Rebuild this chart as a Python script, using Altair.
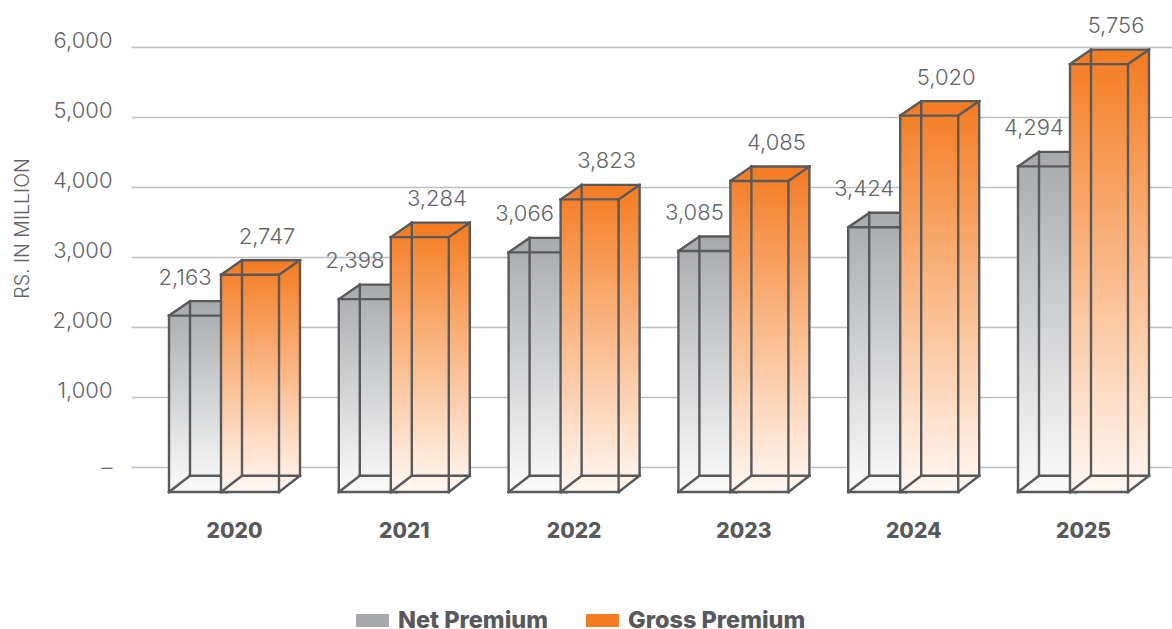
import altair as alt
import pandas as pd

YEARS = [2020, 2021, 2022, 2023, 2024, 2025]
NET_PREMIUM = [2163, 2398, 3066, 3085, 3424, 4294]
GROSS_PREMIUM = [2747, 3284, 3823, 4085, 5020, 5756]
SERIES = ["Net Premium", "Gross Premium"]
TICKS = [0, 1000, 2000, 3000, 4000, 5000, 6000]

# Box geometry, expressed in the units of the two scales
STEP_PX = 169.8
PX_PER_UNIT = 0.07
BOX_WIDTH = 58 / STEP_PX
DEPTH_X = 21 / STEP_PX
DEPTH_Y_TOP = 14.5 / PX_PER_UNIT
FLOOR_FRONT = -357
FLOOR_BACK = -124
NET_START = -65 / STEP_PX
GROSS_START = -13 / STEP_PX

LIGHT = "Inter"
INK = "#636466"
DARK = "#58595b"
EDGE = "#58595b"
GRID = "#bcbec0"

X_SCALE = alt.Scale(domain=[2020 - 103 / STEP_PX, 2020 + 938 / STEP_PX], nice=False, zero=False)
Y_SCALE = alt.Scale(domain=[-500, 6500], nice=False, zero=False)

X_AXIS = alt.Axis(
    values=YEARS, format="d", title=None, grid=False, ticks=False, domain=False,
    labelFont=LIGHT, labelFontSize=21, labelFontWeight=800, labelColor=DARK,
    labelPadding=29, labelBaseline="middle", labelOverlap=False,
)
Y_AXIS = alt.Axis(
    values=TICKS, title="RS. IN MILLION", titleX=-109, titleY=216, titleAngle=-90,
    titleFont=LIGHT, titleFontSize=19.5, titleFontWeight=300, titleColor=INK,
    titleAlign="center", titleBaseline="middle",
    grid=True, gridColor=GRID, gridWidth=1.5, ticks=False, domain=False,
    labelFont=LIGHT, labelFontSize=22, labelFontWeight=300, labelColor=INK,
    labelPadding=19,
    labelBaseline={"condition": {"test": "datum.value === 0", "value": "middle"},
                   "value": "alphabetic"},
    labelExpr="datum.value === 0 ? '–' : format(datum.value, ',')",
)


def silhouette(years, values, start):
    rows = []
    for year, value in zip(years, values):
        x0 = year + start
        x1 = x0 + BOX_WIDTH
        back = value + DEPTH_Y_TOP
        rows += [
            dict(year=year, x=x0, top=value, base=FLOOR_FRONT),
            dict(year=year, x=x0 + DEPTH_X, top=back, base=FLOOR_FRONT),
            dict(year=year, x=x1, top=back, base=FLOOR_FRONT),
            dict(year=year, x=x1 + DEPTH_X, top=back, base=FLOOR_BACK),
        ]
    return pd.DataFrame(rows)


def wireframe(years, values, start):
    rows = []
    for year, value in zip(years, values):
        x0 = year + start
        x1 = x0 + BOX_WIDTH
        bx0, bx1 = x0 + DEPTH_X, x1 + DEPTH_X
        back = value + DEPTH_Y_TOP
        segments = [
            (bx0, back, bx1, back), (bx0, FLOOR_BACK, bx1, FLOOR_BACK),
            (bx0, back, bx0, FLOOR_BACK), (bx1, back, bx1, FLOOR_BACK),
            (x0, value, bx0, back), (x1, value, bx1, back),
            (x0, FLOOR_FRONT, bx0, FLOOR_BACK), (x1, FLOOR_FRONT, bx1, FLOOR_BACK),
            (x0, value, x1, value), (x0, FLOOR_FRONT, x1, FLOOR_FRONT),
            (x0, value, x0, FLOOR_FRONT), (x1, value, x1, FLOOR_FRONT),
        ]
        rows += [dict(a=a, b=b, c=c, d=d) for a, b, c, d in segments]
    return pd.DataFrame(rows)


def fade(top, bottom):
    return alt.Gradient(
        gradient="linear", x1=0, x2=0, y1=0, y2=1,
        stops=[alt.GradientStop(color=top, offset=0), alt.GradientStop(color=bottom, offset=1)],
    )


def box_layers(values, start, top_colour, bottom_colour):
    body = alt.Chart(silhouette(YEARS, values, start)).mark_area(
        color=fade(top_colour, bottom_colour), interpolate="linear"
    ).encode(
        x=alt.X("x:Q", scale=X_SCALE, axis=X_AXIS),
        y=alt.Y("top:Q", scale=Y_SCALE, axis=Y_AXIS),
        y2="base:Q",
        detail="year:N",
    )
    edges = alt.Chart(wireframe(YEARS, values, start)).mark_rule(
        color=EDGE, strokeWidth=2.4, strokeCap="square"
    ).encode(
        x=alt.X("a:Q", scale=X_SCALE, axis=X_AXIS),
        x2="c:Q",
        y=alt.Y("b:Q", scale=Y_SCALE, axis=Y_AXIS),
        y2="d:Q",
    )
    return [body, edges]


# Zero-sized points carry the series colours for the legend
keys = pd.DataFrame({
    "year": YEARS * 2,
    "value": NET_PREMIUM + GROSS_PREMIUM,
    "series": [SERIES[0]] * len(YEARS) + [SERIES[1]] * len(YEARS),
})
frame = alt.Chart(keys).mark_point(size=0, filled=True).encode(
    x=alt.X("year:Q", scale=X_SCALE, axis=X_AXIS),
    y=alt.Y("value:Q", scale=Y_SCALE, axis=Y_AXIS),
    color=alt.Color(
        "series:N",
        scale=alt.Scale(domain=SERIES, range=["#a7a9ac", "#f47b20"]),
        legend=alt.Legend(
            title=None, orient="none", direction="horizontal", legendX=225, legendY=592,
            symbolType="M-1,-0.4H1V0.4H-1Z", symbolSize=1089, symbolOpacity=1,
            symbolStrokeWidth=0, labelFont=LIGHT, labelFontSize=23.5, labelFontWeight=800,
            labelColor=DARK, labelLimit=400, labelOffset=9, columnPadding=37,
        ),
    ),
)


def value_labels(values, start, lift, nudge):
    table = pd.DataFrame({"year": YEARS, "value": values})
    table["x"] = table["year"] + start + nudge / STEP_PX
    return alt.Chart(table).mark_text(
        font=LIGHT, fontSize=22, fontWeight=300, color=INK, dy=-lift, baseline="middle"
    ).encode(
        x=alt.X("x:Q", scale=X_SCALE, axis=X_AXIS),
        y=alt.Y("value:Q", scale=Y_SCALE, axis=Y_AXIS),
        text=alt.Text("value:Q", format=","),
    )


chart = alt.layer(
    frame,
    *box_layers(NET_PREMIUM, NET_START, "#a7a9ac", "#fbfbfb"),
    *box_layers(GROSS_PREMIUM, GROSS_START, "#f47b20", "#fff8f3"),
    value_labels(NET_PREMIUM, NET_START, 38, 16),
    value_labels(GROSS_PREMIUM, GROSS_START, 38, 46),
).properties(
    width=1041,
    height=490,
    padding={"left": 131, "top": 12, "right": 0, "bottom": 127},
    autosize=alt.AutoSizeParams(type="none"),
    background="white",
).configure_view(stroke=None)

chart.save("out.html", embed_options={"renderer": "svg", "actions": False})
